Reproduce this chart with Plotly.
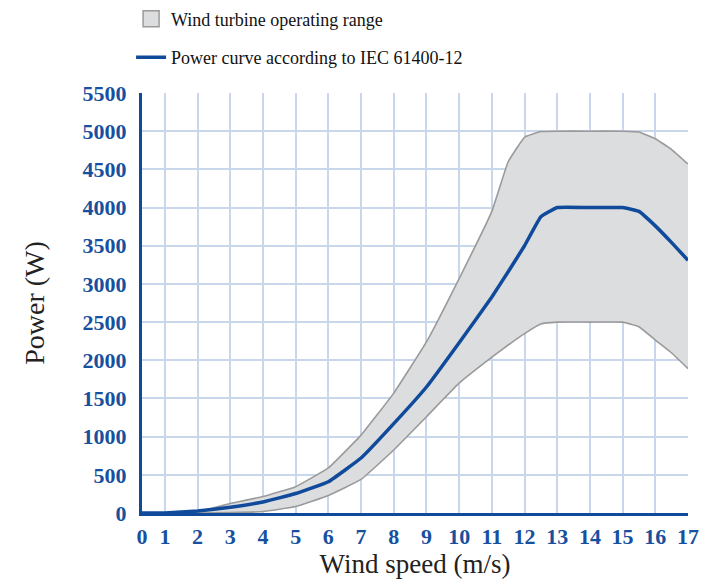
import plotly.graph_objects as go

# Wind speed (m/s)
wind_speed = [0, 1, 2, 3, 4, 5, 6, 7, 8, 9, 10, 11, 11.5, 12, 12.5, 13, 14, 15, 15.5, 16, 16.5, 17]
# Power curve according to IEC 61400-12 (W)
power_curve = [0, 0, 25, 75, 145, 255, 410, 720, 1170, 1650, 2230, 2830, 3160, 3500, 3880, 4000, 4000, 4000, 3950, 3760, 3540, 3310]
# Operating range upper / lower bound (W)
range_upper = [0, 0, 20, 125, 215, 345, 590, 1020, 1570, 2240, 3070, 3950, 4600, 4920, 4995, 5000, 5000, 5000, 4990, 4900, 4760, 4570]
range_lower = [0, 0, 0, 5, 20, 85, 230, 440, 825, 1260, 1700, 2040, 2200, 2350, 2475, 2500, 2500, 2500, 2440, 2265, 2095, 1890]

x_tick_vals = [0.3] + list(range(1, 18))
x_tick_text = [str(i) for i in range(0, 18)]
y_tick_vals = list(range(0, 5501, 500))

BLUE = "#0f4a9b"
TICK_BLUE = "#17509e"
GRID = "#c9d7ec"
BAND_FILL = "#dcdddf"
BAND_LINE = "#9a9a9a"
FONT = "Liberation Serif"

fig = go.Figure()

fig.add_trace(go.Scatter(
    x=wind_speed, y=range_lower, mode="lines",
    line=dict(color=BAND_LINE, width=1.6, shape="spline", smoothing=0.3),
    showlegend=False, hoverinfo="skip"))
fig.add_trace(go.Scatter(
    x=wind_speed, y=range_upper, mode="lines", fill="tonexty", fillcolor=BAND_FILL,
    line=dict(color=BAND_LINE, width=1.6, shape="spline", smoothing=0.3),
    showlegend=False, hoverinfo="skip"))
fig.add_trace(go.Scatter(
    x=wind_speed, y=power_curve, mode="lines",
    line=dict(color=BLUE, width=3.5, shape="spline", smoothing=0.3),
    name="Power curve according to IEC 61400-12", legendgroup="b", legendrank=2))
fig.add_trace(go.Scatter(
    x=[None], y=[None], mode="markers",
    marker=dict(symbol="square", size=20, color=BAND_FILL, line=dict(color=BAND_LINE, width=1.5)),
    name="Wind turbine operating range", legendgroup="a", legendrank=1))

fig.update_layout(
    width=702, height=582,
    margin=dict(l=142, r=14, t=93, b=69, autoexpand=False),
    paper_bgcolor="white", plot_bgcolor="white",
    font=dict(family=FONT, color="black"),
    legend=dict(
        x=-0.02, y=1.22, xanchor="left", yanchor="top",
        font=dict(family=FONT, size=18, color="#111111"),
        traceorder="grouped", tracegroupgap=12,
        bgcolor="rgba(0,0,0,0)", itemwidth=30,
    ),
    xaxis=dict(
        range=[0.3, 17], tickvals=x_tick_vals, ticktext=x_tick_text,
        showgrid=True, gridcolor=GRID, gridwidth=2,
        showline=True, linecolor=BLUE, linewidth=3,
        zeroline=False, ticks="", ticklabelstandoff=2, automargin=False,
        tickfont=dict(family=FONT, size=22, color=TICK_BLUE, weight="bold"),
        title=dict(text="Wind speed (m/s)", font=dict(family=FONT, size=27, color="#222222"), standoff=4),
    ),
    yaxis=dict(
        range=[0, 5500], tickvals=y_tick_vals,
        showgrid=True, gridcolor=GRID, gridwidth=2,
        showline=True, linecolor=BLUE, linewidth=3,
        zeroline=False, ticks="", ticklabelstandoff=8, automargin=False,
        tickfont=dict(family=FONT, size=22, color=TICK_BLUE, weight="bold"),
        title=dict(text="Power (W)", font=dict(family=FONT, size=28, color="#222222"), standoff=30),
    ),
)

fig.write_html("out.html", config={"displayModeBar": False},
               post_script="document.body.style.margin='0';")
